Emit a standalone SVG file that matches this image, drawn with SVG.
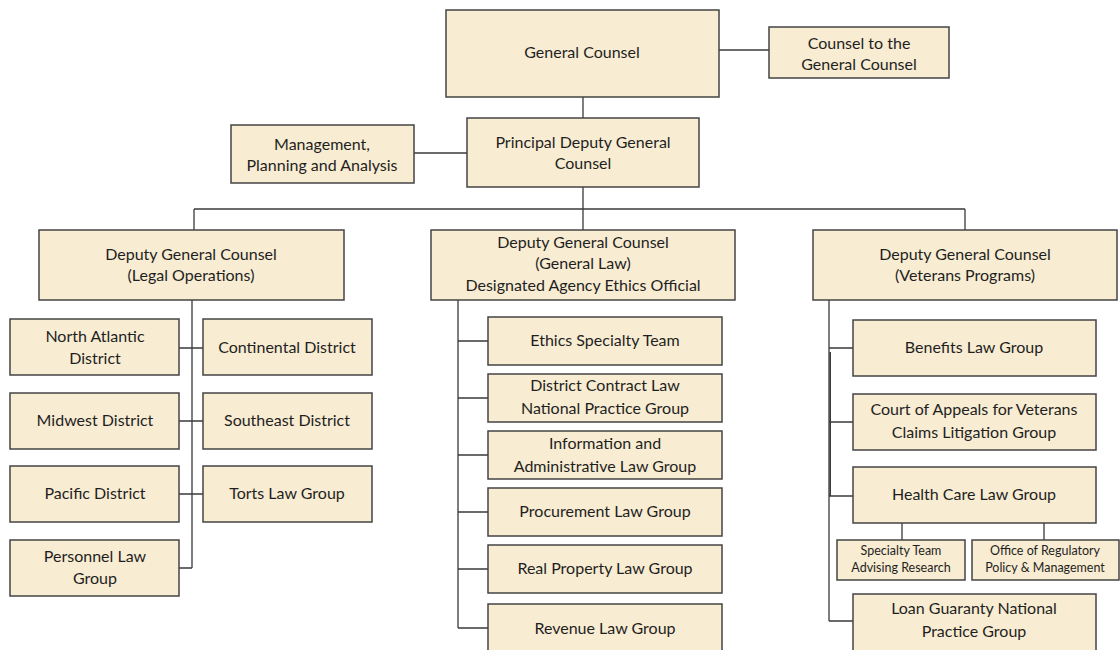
<svg xmlns="http://www.w3.org/2000/svg" width="1120" height="650" viewBox="0 0 1120 650">
<style>
.box{fill:#f8ecd2;stroke:#444444;stroke-width:1.5}
text{font-family:Lato,"Open Sans","Liberation Sans",sans-serif;font-size:16px;fill:#1f1f1f;text-anchor:middle}
.sm{font-size:12.5px}
.c{fill:none;stroke:#3a3a3a;stroke-width:1.3}
</style>
<rect width="1120" height="650" fill="#ffffff"/>
<g id="connectors" class="c">
<path d="M719 50H769"/>
<path d="M583 97V118"/>
<path d="M414 153H467"/>
<path d="M583 187V209M194 209H965M194 209V230M583 209V230M965 209V230"/>
<path d="M192 300V568M179 348H203M179 421H203M179 494H203M179 568H192"/>
<path d="M458 300V628M458 341H488M458 398H488M458 455H488M458 512H488M458 569H488M458 628H488"/>
<path d="M829 300V621M829 348H853M829 422H853M829 496H853M829 621H853"/>
<path d="M830.2 352V496" stroke-width="1.6"/>
<path d="M902 523V540M1044 523V540"/>
</g>
<g id="general-counsel"><rect class="box" x="446" y="10" width="273" height="87"/><text x="582" y="58">General Counsel</text></g>
<g id="counsel-to-gc"><rect class="box" x="769" y="27" width="180" height="51"/><text x="859" y="49">Counsel to the</text><text x="859" y="70">General Counsel</text></g>
<g id="pdgc"><rect class="box" x="467" y="118" width="232" height="69"/><text x="583" y="148">Principal Deputy General</text><text x="583" y="169">Counsel</text></g>
<g id="mpa"><rect class="box" x="231" y="125" width="183" height="58"/><text x="322" y="150">Management,</text><text x="322" y="171">Planning and Analysis</text></g>
<g id="dgc-legal"><rect class="box" x="39" y="230" width="305" height="70"/><text x="191" y="260">Deputy General Counsel</text><text x="191" y="281">(Legal Operations)</text></g>
<g id="dgc-general"><rect class="box" x="431" y="230" width="304" height="70"/><text x="583" y="248">Deputy General Counsel</text><text x="583" y="269">(General Law)</text><text x="583" y="291">Designated Agency Ethics Official</text></g>
<g id="dgc-veterans"><rect class="box" x="813" y="230" width="304" height="70"/><text x="965" y="260">Deputy General Counsel</text><text x="965" y="281">(Veterans Programs)</text></g>
<g id="north-atlantic"><rect class="box" x="10" y="319" width="169" height="56"/><text x="95" y="342">North Atlantic</text><text x="95" y="364">District</text></g>
<g id="continental"><rect class="box" x="203" y="319" width="169" height="56"/><text x="287" y="353">Continental District</text></g>
<g id="midwest"><rect class="box" x="10" y="393" width="169" height="56"/><text x="95" y="426">Midwest District</text></g>
<g id="southeast"><rect class="box" x="203" y="393" width="169" height="56"/><text x="287" y="426">Southeast District</text></g>
<g id="pacific"><rect class="box" x="10" y="466" width="169" height="56"/><text x="95" y="499">Pacific District</text></g>
<g id="torts"><rect class="box" x="203" y="466" width="169" height="56"/><text x="287" y="499">Torts Law Group</text></g>
<g id="personnel"><rect class="box" x="10" y="540" width="169" height="56"/><text x="95" y="562">Personnel Law</text><text x="95" y="584">Group</text></g>
<g id="ethics"><rect class="box" x="488" y="317" width="234" height="48"/><text x="605" y="346">Ethics Specialty Team</text></g>
<g id="district-contract"><rect class="box" x="488" y="374" width="234" height="48"/><text x="605" y="391">District Contract Law</text><text x="605" y="414">National Practice Group</text></g>
<g id="info-admin"><rect class="box" x="488" y="431" width="234" height="48"/><text x="605" y="449">Information and</text><text x="605" y="472">Administrative Law Group</text></g>
<g id="procurement"><rect class="box" x="488" y="488" width="234" height="48"/><text x="605" y="517">Procurement Law Group</text></g>
<g id="real-property"><rect class="box" x="488" y="545" width="234" height="48"/><text x="605" y="574">Real Property Law Group</text></g>
<g id="revenue"><rect class="box" x="488" y="604" width="234" height="50"/><text x="605" y="634">Revenue Law Group</text></g>
<g id="benefits"><rect class="box" x="853" y="320" width="243" height="56"/><text x="974" y="353">Benefits Law Group</text></g>
<g id="cavc"><rect class="box" x="853" y="394" width="243" height="56"/><text x="974" y="415">Court of Appeals for Veterans</text><text x="974" y="438">Claims Litigation Group</text></g>
<g id="health-care"><rect class="box" x="853" y="467" width="243" height="56"/><text x="974" y="500">Health Care Law Group</text></g>
<g id="specialty-team"><rect class="box" x="837" y="540" width="128" height="40"/><text class="sm" x="901" y="555">Specialty Team</text><text class="sm" x="901" y="572">Advising Research</text></g>
<g id="orpm"><rect class="box" x="972" y="540" width="147" height="40"/><text class="sm" x="1045" y="555">Office of Regulatory</text><text class="sm" x="1045" y="572">Policy &amp; Management</text></g>
<g id="loan-guaranty"><rect class="box" x="853" y="594" width="243" height="60"/><text x="974" y="614">Loan Guaranty National</text><text x="974" y="637">Practice Group</text></g>
</svg>
